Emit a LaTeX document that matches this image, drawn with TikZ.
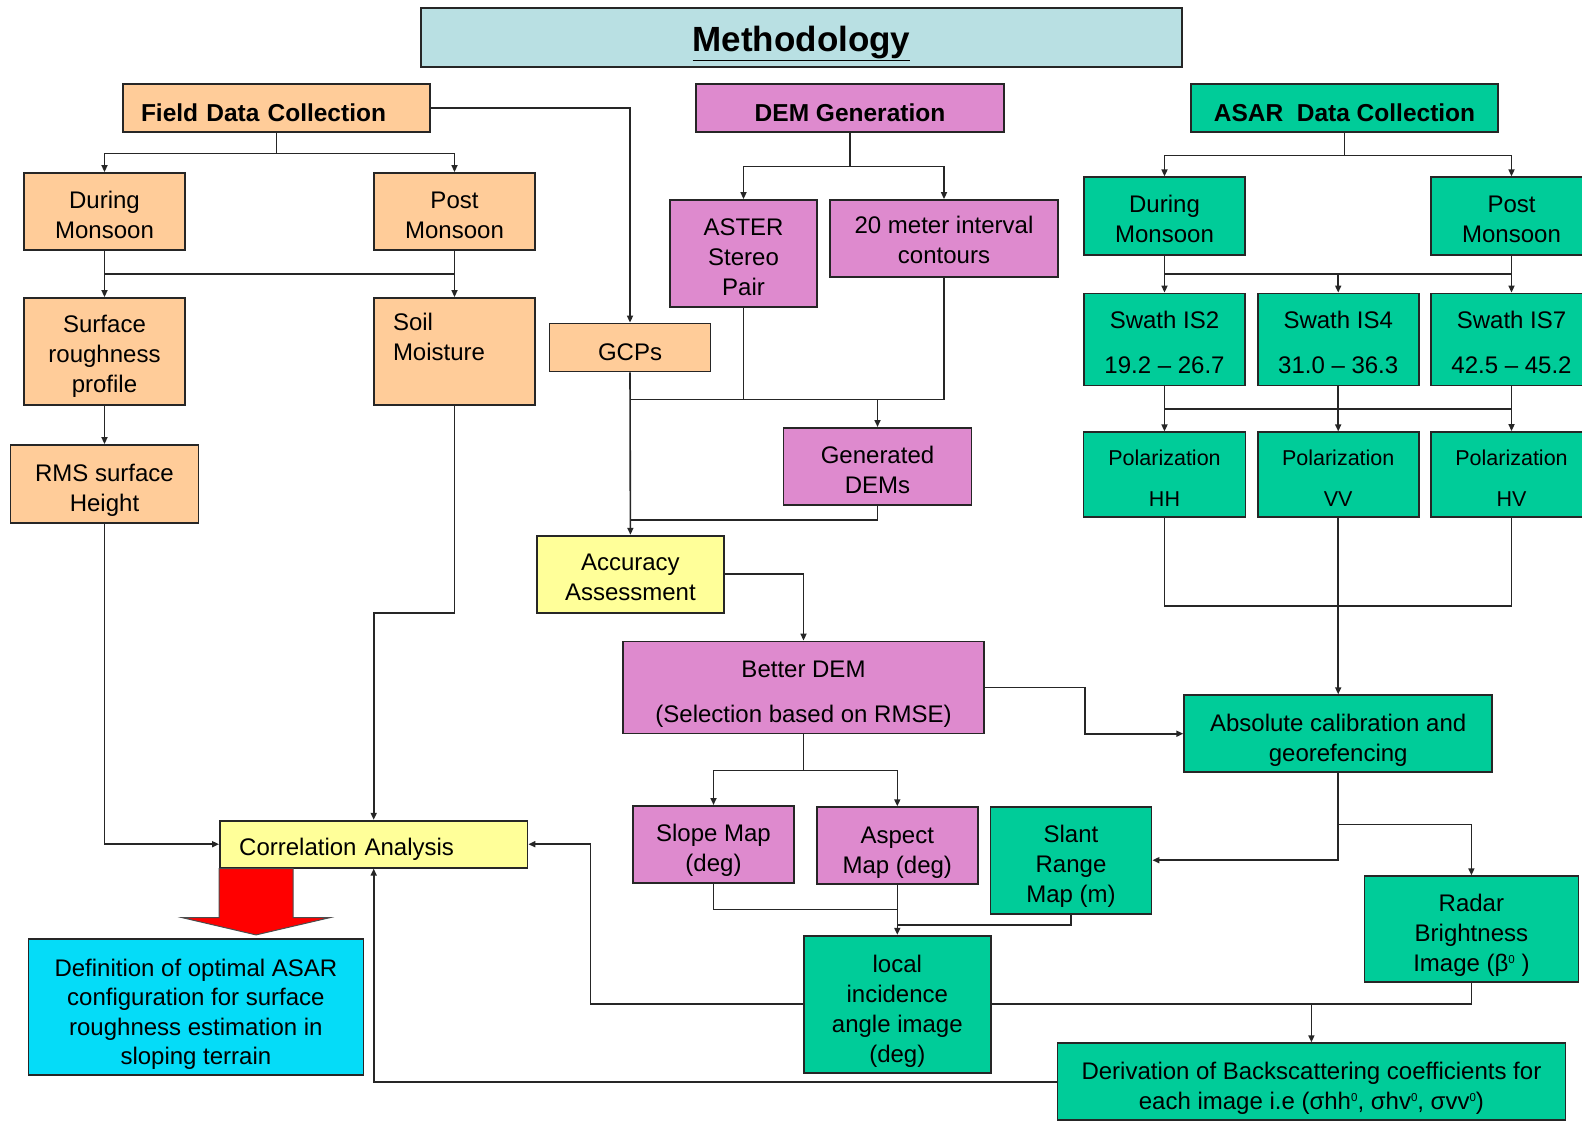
\documentclass[tikz,border=0pt]{standalone}
\usepackage{fontspec}
\setmainfont{Liberation Sans}
\usetikzlibrary{arrows.meta,positioning,calc}

\definecolor{titleblue}{RGB}{185,224,227}
\definecolor{fieldorange}{RGB}{255,204,153}
\definecolor{dempink}{RGB}{222,138,206}
\definecolor{asargreen}{RGB}{0,204,153}
\definecolor{stepyellow}{RGB}{255,255,153}
\definecolor{resultcyan}{RGB}{5,220,248}

\newcommand{\zsup}{\raisebox{8pt}{\fontsize{11.5}{12}\selectfont 0}}
\newcommand{\fl}[1]{\rule{0pt}{#1}}

\begin{document}
\begin{tikzpicture}[
    x=1pt, y=-1pt,
    wh/.style 2 args={minimum width=#1, minimum height=#2},
    frame/.style={rectangle, draw=black!85, line width=1.8pt, align=center, inner sep=2pt},
    box/.style={frame, font=\fontsize{24}{30}\selectfont},
    oneline/.style={execute at begin node={\rule{0pt}{27pt}}},
    titlebox/.style={frame, fill=titleblue, font=\fontsize{35}{40}\selectfont\bfseries, execute at begin node={\rule{0pt}{38pt}}},
    obox/.style={box, fill=fieldorange},
    pbox/.style={box, fill=dempink},
    gbox/.style={box, fill=asargreen},
    ybox/.style={box, fill=stepyellow},
    cbox/.style={box, fill=resultcyan},
    head/.style={box, oneline, font=\fontsize{24.5}{30}\selectfont\bfseries},
    wide/.style={font=\fontsize{24}{45}\selectfont},
    pol/.style={font=\fontsize{21.5}{41}\selectfont},
    arrow/.style={-{Triangle[length=7pt,width=6pt]}, line width=1.6pt, black!85},
    line/.style={line width=1.6pt, black!85},
    redarrow/.style={fill=red, draw=black!70, line width=1pt}
]
    \useasboundingbox (0,0) rectangle (1582,1121);

    % Title
    \node[titlebox, wh={761}{59}] (title) at (801.5,37.5) {\underline{Methodology}};

    % Field data
    \node[head, fill=fieldorange, wh={307}{48}, align=left, text width=271pt, inner xsep=18pt] (fdc) at (276.5,108) {Field Data Collection};
    \node[obox, wh={161}{77}] (dmon) at (104.5,211.5) {\fl{23.5pt}During\\Monsoon};
    \node[obox, wh={161}{77}] (pmon) at (454.5,211.5) {\fl{23.5pt}Post\\Monsoon};
    \node[obox, wh={161}{107}] (surf) at (104.5,351.5) {\fl{27.5pt}Surface\\roughness\\profile};
    \node[obox, wh={161}{107}, align=left, text width=123pt, inner xsep=19pt] (soil) at (454.5,351.5) {Soil\\Moisture\\\mbox{}};
    \node[obox, wh={188}{78}] (rms) at (104.5,484) {\fl{29.5pt}RMS surface\\Height};
    \node[obox, oneline, wh={161}{48}] (gcp) at (630,347.5) {GCPs};

    % DEM
    \node[head, fill=dempink, wh={308}{48}] (dem) at (850,108) {DEM Generation};
    \node[pbox, wh={147}{107}] (aster) at (743.5,253.5) {\fl{23.5pt}ASTER\\Stereo\\Pair};
    \node[pbox, wh={228}{77}] (cont) at (944,238.5) {\fl{20pt}20 meter interval\\contours};
    \node[pbox, wh={188}{77}] (gdem) at (877.5,466.4) {\fl{23.5pt}Generated\\DEMs};
    \node[ybox, wh={187}{77}] (acc) at (630.4,574.2) {\fl{23.5pt}Accuracy\\Assessment};
    \node[pbox, wide, wh={361}{92}] (better) at (803.5,687.5) {\fl{30pt}Better DEM\\(Selection based on RMSE)};
    \node[pbox, wh={161}{77}] (slope) at (713.5,844.4) {\fl{30pt}Slope Map\\(deg)};
    \node[pbox, wh={161}{77}] (aspect) at (897.3,845.7) {\fl{30pt}Aspect\\Map (deg)};

    % ASAR
    \node[head, fill=asargreen, wh={307}{48}] (asar) at (1344.5,108) {ASAR~~Data Collection};
    \node[gbox, wh={161}{78}] (dmonA) at (1164.5,216.3) {\fl{23.5pt}During\\Monsoon};
    \node[gbox, wh={161}{78}] (pmonA) at (1511.5,216.3) {\fl{23.5pt}Post\\Monsoon};
    \node[gbox, wide, wh={161}{92}] (is2) at (1164.5,339.5) {\fl{23.5pt}Swath IS2\\19.2 – 26.7};
    \node[gbox, wide, wh={161}{92}] (is4) at (1338.2,339.5) {\fl{23.5pt}Swath IS4\\31.0 – 36.3};
    \node[gbox, wide, wh={161}{92}] (is7) at (1511.5,339.5) {\fl{23.5pt}Swath IS7\\42.5 – 45.2};
    \node[gbox, pol, wh={162}{85}] (phh) at (1164.5,474.8) {\fl{22pt}Polarization\\HH};
    \node[gbox, pol, wh={161}{85}] (pvv) at (1338.2,474.8) {\fl{22pt}Polarization\\VV};
    \node[gbox, pol, wh={161}{85}] (phv) at (1511.5,474.5) {\fl{22pt}Polarization\\HV};
    \node[gbox, wh={308}{77}] (abs) at (1338.2,733.7) {\fl{30pt}Absolute calibration and\\georefencing};
    \node[gbox, wh={161}{107}] (slant) at (1071,860.2) {\fl{30pt}Slant\\Range\\Map (m)};
    \node[gbox, wh={214}{106}] (radar) at (1471.4,929.2) {\fl{30pt}Radar\\Brightness\\Image (β\zsup\ )};
    \node[gbox, wh={187}{137}] (local) at (897.3,1004.2) {\fl{31pt}local\\incidence\\angle image\\(deg)};
    \node[gbox, wh={508}{77}] (deriv) at (1311.4,1081.7) {\fl{31pt}Derivation of Backscattering coefficients for\\each image i.e (σhh\zsup, σhv\zsup, σvv\zsup)};

    % Results
    \node[ybox, oneline, wh={307.5}{47}, align=left, text width=269pt, inner xsep=19pt] (corr) at (373.7,844.2) {Correlation Analysis};
    \node[cbox, wh={335}{136}, font=\fontsize{24}{29.5}\selectfont] (defn) at (195.9,1007) {\fl{31.5pt}Definition of optimal ASAR\\configuration for surface\\roughness estimation in\\sloping terrain};

    % Field flow
    \draw[arrow] (fdc.south) -- ++(0,20.5) -| (dmon.north);
    \draw[arrow] (fdc.south) -- ++(0,20.5) -| (pmon.north);
    \draw[arrow] (dmon.south) -- (surf.north);
    \draw[arrow] (pmon.south) -- (soil.north);
    \draw[line] (dmon.south |- 0,274) -- (pmon.south |- 0,274);
    \draw[arrow] (surf.south) -- (rms.north);
    \draw[arrow] (rms.south) |- (corr.west);
    \draw[arrow] (soil.south) -- ++(0,207.3) -| (corr.north);
    \draw[arrow] (fdc.east) -| (gcp.north);

    % DEM flow
    \draw[arrow] (dem.south) -- ++(0,33.5) -| (aster.north);
    \draw[arrow] (dem.south) -- ++(0,33.5) -| (cont.north);
    \draw[line] (aster.south) |- (cont.south |- 0,399.3) -- (cont.south);
    \draw[arrow] (gcp.south |- 0,399.3) -| (gdem.north);
    \draw[arrow] (gcp.south) -- (acc.north);
    \draw[line] (gdem.south) |- (acc.north |- 0,520);
    \draw[arrow] (acc.east) -| (better.north);
    \draw[arrow] (better.east) -- ++(100,0) |- (abs.west);
    \draw[arrow] (better.south) -- ++(0,36) -| (slope.north);
    \draw[arrow] (better.south) -- ++(0,36) -| (aspect.north);
    \draw[arrow] (aspect.south) -- (local.north);
    \draw[line] (slope.south) |- (aspect.south |- 0,909.3);
    \draw[line] (slant.south) |- (aspect.south |- 0,924.7);

    % ASAR flow
    \draw[arrow] (asar.south) -- ++(0,22.5) -| (dmonA.north);
    \draw[arrow] (asar.south) -- ++(0,22.5) -| (pmonA.north);
    \draw[arrow] (dmonA.south) -- (is2.north);
    \draw[arrow] (pmonA.south) -- (is7.north);
    \draw[line] (dmonA.south |- 0,274) -- (pmonA.south |- 0,274);
    \draw[arrow] (is4.north |- 0,274) -- (is4.north);
    \draw[arrow] (is2.south) -- (phh.north);
    \draw[arrow] (is4.south) -- (pvv.north);
    \draw[arrow] (is7.south) -- (phv.north);
    \draw[line] (is2.south |- 0,408.7) -- (is7.south |- 0,408.7);
    \draw[line] (phh.south) |- (phv.south |- 0,606) -- (phv.south);
    \draw[arrow] (pvv.south) -- (abs.north);
    \draw[arrow] (abs.south) |- (slant.east);
    \draw[arrow] (abs.south) -- ++(0,51.4) -| (radar.north);
    \draw[arrow] (local.east) -| (deriv.north);
    \draw[line] (radar.south) |- (deriv.north |- local.east);

    % Back to correlation
    \draw[arrow] (local.west) -- ++(-212.6,0) |- (corr.east);
    \draw[arrow] (deriv.west) -| (corr.south);
    \draw[redarrow] (corr.south west) -- ++(74,0) -- ++(0,49) -- ++(37,0) -- ++(-74,17.3) -- ++(-74,-17.3) -- ++(37,0) -- cycle;
\end{tikzpicture}
\end{document}
